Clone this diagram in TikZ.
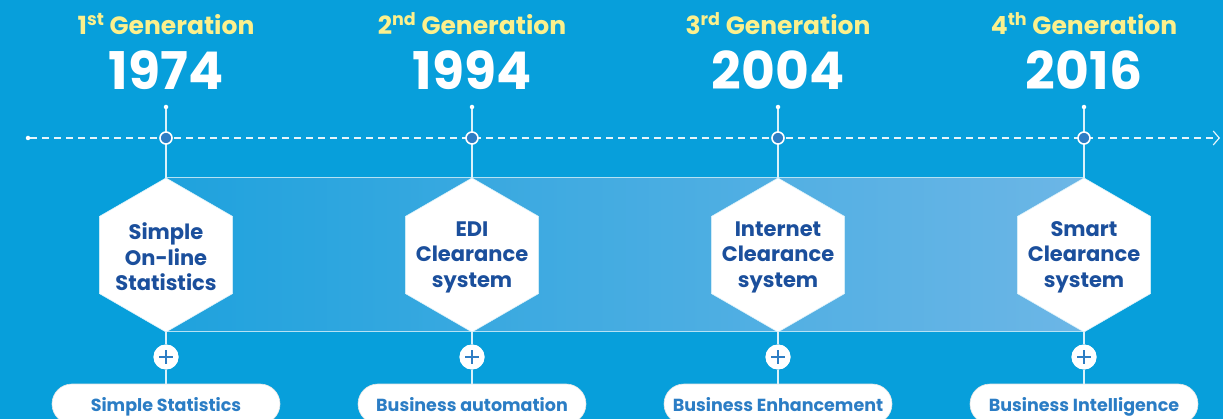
\documentclass[tikz,border=0pt]{standalone}
\usepackage{fontspec}
\setmainfont{Poppins}
\usetikzlibrary{shapes.geometric,shapes.misc,arrows.meta}
\definecolor{bg}{HTML}{079FDB}
\definecolor{gen}{HTML}{FCF08C}
\definecolor{hextxt}{HTML}{1B4F9C}
\definecolor{pilltxt}{HTML}{2B7DC5}
\definecolor{dotfill}{HTML}{2E7DC4}
\definecolor{bandL}{HTML}{1FA2DD}
\definecolor{bandR}{HTML}{6CB6E6}
\tikzset{
  gentext/.style={text=gen, font=\bfseries\fontsize{25}{29}\selectfont, anchor=base},
  yeartext/.style={text=white, font=\bfseries\fontsize{52}{56}\selectfont, anchor=base},
  hexa/.style={regular polygon, regular polygon sides=6, shape border rotate=30,
    minimum size=154pt, inner sep=0pt, fill=white, draw=white!85!bg, line width=0.6pt},
  hextext/.style={text=hextxt, align=center, font=\bfseries\fontsize{21}{25.5}\selectfont},
  tick/.style={circle, fill=dotfill, draw=white, line width=1.6pt, minimum size=12pt, inner sep=0pt},
  plusc/.style={circle, fill=white, minimum size=25pt, inner sep=0pt},
  pill/.style={rounded rectangle, fill=white, draw=white!80!gray, line width=0.6pt,
    minimum width=228pt, minimum height=40pt, inner sep=0pt},
  pilltext/.style={text=pilltxt, anchor=base, font=\bfseries\fontsize{17.5}{21}\selectfont},
  vline/.style={draw=white!85!bg, line width=1.2pt},
  smalldot/.style={circle, fill=white, minimum size=4.5pt, inner sep=0pt},
}
\begin{document}
\begin{tikzpicture}[x=1pt,y=-1pt]
\useasboundingbox (0,0) rectangle (1223,419);
\clip (0,0) rectangle (1223,419);
\fill[bg] (0,0) rectangle (1223,419);

% band
\shade[left color=bandL, right color=bandR] (166,178) rectangle (1084,332);
\draw[white!70!bg, line width=1pt] (166,178) -- (1084,178);
\draw[white!70!bg, line width=1pt] (166,332) -- (1084,332);

% timeline
\node[smalldot] (t0) at (28,138) {};
\coordinate (tend) at (1220,138);
\draw[white!90!bg, line width=1.2pt, dash pattern=on 7pt off 5pt,
  -{Straight Barb[length=6pt,width=14pt,line width=1.2pt]}] (t0) -- (tend);

% columns
\foreach \i/\x/\sup/\yr/\txt/\pl in {
  1/166/st/1974/{Simple\\On-line\\Statistics}/{Simple Statistics},
  2/472/nd/1994/{EDI\\Clearance\\system}/{Business automation},
  3/778/rd/2004/{Internet\\Clearance\\system}/{Business Enhancement},
  4/1084/th/2016/{Smart\\Clearance\\system}/{Business Intelligence}}{
  \node[gentext] (g\i) at (\x,35) {\i\textsuperscript{\sup} Generation};
  \node[yeartext] (y\i) at (\x,90) {\yr};
  \node[smalldot] (d\i) at (\x,107) {};
  \node[hexa] (h\i) at (\x,255) {};
  \node[plusc] (p\i) at (\x,357) {};
  \node[pill] (b\i) at (\x,404) {};
  \node[pilltext] (bt\i) at (\x,411) {\pl};
  \path[vline] (d\i) -- (h\i.north);
  \path[vline] (h\i.south) -- (p\i) -- (b\i.north);
  \node[tick] (c\i) at (\x,138) {};
  \node[plusc] at (p\i) {};
  \draw[dotfill, line width=2pt] ([xshift=-7pt]p\i.center) -- ([xshift=7pt]p\i.center)
    ([yshift=-7pt]p\i.center) -- ([yshift=7pt]p\i.center);
  \node[hextext] (ht\i) at ([yshift=-2pt]h\i.center) {\txt};
}
\end{tikzpicture}
\end{document}
